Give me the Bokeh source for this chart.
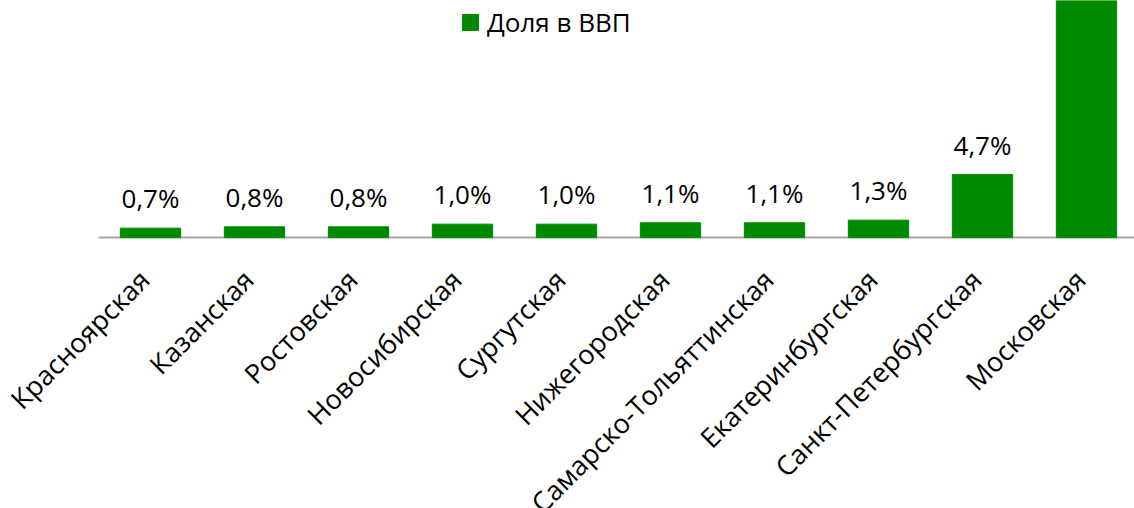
import math
from bokeh.plotting import figure
from bokeh.models import ColumnDataSource, Range1d, FixedTicker, Legend, LegendItem, LinearAxis
from bokeh.core.properties import value
from bokeh.embed import file_html
from bokeh.resources import INLINE

regions = ["Красноярская", "Казанская", "Ростовская", "Новосибирская", "Сургутская",
           "Нижегородская", "Самарско-Тольяттинская", "Екатеринбургская",
           "Санкт-Петербургская", "Московская"]
shares = [0.7, 0.8, 0.8, 1.0, 1.0, 1.1, 1.1, 1.3, 4.7, 22.0]
series_name = "Доля в ВВП"

FONT = "Open Sans"
GREEN = "#008a00"
Y_TOP = 17.69
Y_BOTTOM = -20.22
LABEL_SHIFT = -0.06   # small nudge of rotated category labels

n = len(regions)
x = list(range(n))
# the label of a bar that runs off the top of the chart is not visible
labels = [("%.1f%%" % v).replace(".", ",") if v < Y_TOP else "" for v in shares]
src = ColumnDataSource(dict(x=x, y=shares, lab=labels))

p = figure(width=1134, height=508, output_backend="svg", toolbar_location=None,
           x_range=Range1d(-1.4423, 9.4615), y_range=Range1d(Y_BOTTOM, Y_TOP),
           x_axis_location=None,
           min_border_left=0, min_border_right=0, min_border_top=0, min_border_bottom=0)
p.outline_line_color = None
p.xgrid.visible = False
p.ygrid.visible = False
p.yaxis.visible = False

# category axis base line
p.segment(x0=[-0.5], x1=[n], y0=[0], y1=[0], line_color="#a6a6a6", line_width=2)

bars = p.vbar(x="x", top="y", width=0.58, bottom=0, source=src,
              fill_color=GREEN, line_color=GREEN)
p.text(x="x", y="y", text="lab", source=src, text_align="center",
       text_baseline="alphabetic", y_offset=-30,
       text_font=value(FONT), text_font_size="26px", text_color="#000000")

ticks = [i + LABEL_SHIFT for i in x]
ax = LinearAxis(fixed_location=0)
ax.ticker = FixedTicker(ticks=ticks)
ax.major_label_overrides = {t: r for t, r in zip(ticks, regions)}
ax.major_label_orientation = math.pi / 4
ax.major_label_text_font = FONT
ax.major_label_text_font_size = "27px"
ax.major_label_text_color = "#000000"
ax.major_label_standoff = 31
ax.major_tick_line_color = None
ax.minor_tick_line_color = None
ax.axis_line_color = None
p.add_layout(ax, "below")

legend = Legend(items=[LegendItem(label=series_name, renderers=[bars])],
                location=(460, 468), orientation="horizontal")
legend.border_line_color = None
legend.background_fill_alpha = 0
legend.label_text_font = FONT
legend.label_text_font_size = "26px"
legend.label_text_color = "#000000"
legend.label_standoff = 7
legend.glyph_width = 20
legend.glyph_height = 20
legend.margin = 0
legend.padding = 0
p.add_layout(legend)

open("out.html", "w").write(file_html(p, INLINE))
